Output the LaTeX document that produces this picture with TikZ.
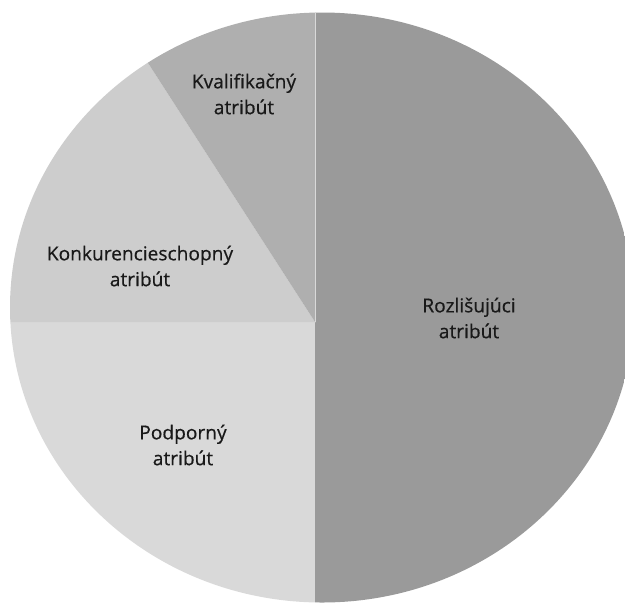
\documentclass[tikz,border=0pt]{standalone}
\usepackage{fontspec}
\setmainfont{Open Sans}
\newfontfamily\slicefont{Open Sans}[BoldFont={Open Sans},BoldFeatures={FakeBold=0.5}]
\usepackage{tikz}
\definecolor{rozlgray}{HTML}{9A9A9A}
\definecolor{kvalgray}{HTML}{AFAFAF}
\definecolor{konkgray}{HTML}{CDCDCD}
\definecolor{podpgray}{HTML}{D9D9D9}
\tikzset{
  every picture/.style={
    line join=round,
    line cap=round,
  },
  slicelabel/.style={align=center,text=black!90,
    font=\slicefont\bfseries\fontsize{10.9}{14.7}\selectfont},
  slicegap/.style={white!70!gray,line width=0.4pt},
}

\begin{document}
\begin{tikzpicture}[x=0.02cm,y=-0.02cm]
\useasboundingbox(0,0)rectangle(625,606);
\coordinate(o)at(315,322);
\coordinate(kvaledge)at(64.5,-66.5);
% the scan is a little wider than tall, so clip to an ellipse
\begin{scope}
\clip(322,307.5)ellipse[x radius=312,y radius=295];
\fill[rozlgray](315,-20)rectangle(660,660);
\fill[podpgray](o)rectangle(-20,660);
\fill[konkgray](o)--(kvaledge)--(-20,-66.5)--(-20,322)--cycle;
\fill[kvalgray](o)--(kvaledge)--(315,-66.5)--cycle;
\draw[slicegap](o)--(315,-20);
\end{scope}
\node[slicelabel](kval)at(244,94){Kvalifikačný\\atribút};
\node[slicelabel](konk)at(140,266){Konkurencieschopný\\atribút};
\node[slicelabel](rozl)at(469,318){Rozlišujúci\\atribút};
\node[slicelabel](podp)at(183,445){Podporný\\atribút};
\end{tikzpicture}
\end{document}
